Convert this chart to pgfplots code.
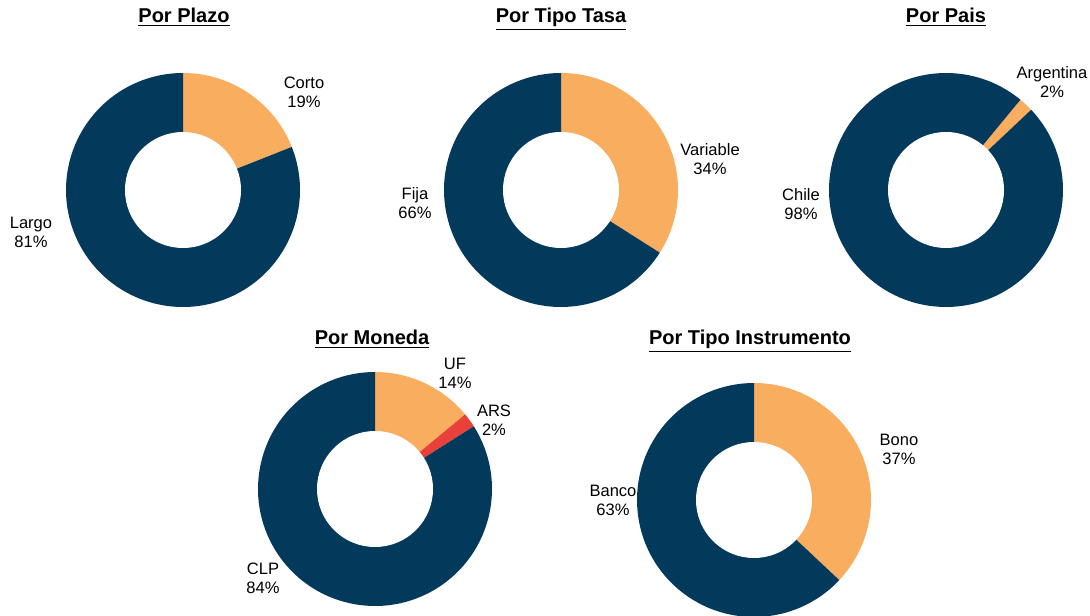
\documentclass[border=0pt]{standalone}
\usepackage{pgfplots}
\pgfplotsset{compat=1.18}
\usepackage{fontspec}
\setmainfont{Liberation Sans}
\definecolor{navy}{RGB}{3,58,92}
\definecolor{orng}{RGB}{249,173,94}
\definecolor{redd}{RGB}{233,64,58}
\newcommand\Ro{87.75pt}
\newcommand\Ri{43.5pt}
\newcommand\donut[2]{%
  \xdef\curang{#1}%
  \foreach \v/\col in {#2} {%
    \pgfmathsetmacro\nextang{\curang-3.6*\v}%
    \fill[\col] (axis cs:0,0) -- ++(\curang:\Ro) arc[start angle=\curang, end angle=\nextang, radius=\Ro] -- cycle;
    \xdef\curang{\nextang}%
  }%
  \fill[white] (axis cs:0,0) circle[radius=\Ri];
}
\pgfplotsset{donutax/.style={scale only axis, width=175.5pt, height=175.5pt,
  xmin=-1, xmax=1, ymin=-1, ymax=1, hide axis, clip=false, anchor=center}}
\newcommand\lab[4]{%
  \node[anchor=base, inner sep=0pt, font=\fontsize{12.4}{14}\selectfont] at (#1,#2) {#3};
  \node[anchor=base, inner sep=0pt, font=\fontsize{12.4}{14}\selectfont] at (#1,{#2+19}) {#4};}
\newcommand\ttl[3]{%
  \node[anchor=base, inner sep=0pt, font=\fontsize{15}{18}\selectfont\bfseries] at (#1,#2) {\underline{#3}};}
\begin{document}
\begin{tikzpicture}[x=0.75pt, y=-0.75pt]
\useasboundingbox (0,0) rectangle (1090,616);
% Por Plazo
\begin{axis}[donutax, at={({183*0.75pt},{-190*0.75pt})}]
\addplot[draw=none] coordinates {(0,0)};
\pgfplotsextra{\donut{90}{19/orng, 81/navy}}
\end{axis}
% Por Tipo Tasa
\begin{axis}[donutax, at={({561*0.75pt},{-190*0.75pt})}]
\addplot[draw=none] coordinates {(0,0)};
\pgfplotsextra{\donut{90}{34/orng, 66/navy}}
\end{axis}
% Por Pais
\begin{axis}[donutax, at={({946*0.75pt},{-190*0.75pt})}]
\addplot[draw=none] coordinates {(0,0)};
\pgfplotsextra{\donut{50.5}{2/orng, 98/navy}}
\end{axis}
% Por Moneda
\begin{axis}[donutax, at={({375*0.75pt},{-489*0.75pt})}]
\addplot[draw=none] coordinates {(0,0)};
\pgfplotsextra{\donut{90}{14/orng, 2/redd, 84/navy}}
\end{axis}
% Por Tipo Instrumento
\begin{axis}[donutax, at={({754*0.75pt},{-500*0.75pt})}]
\addplot[draw=none] coordinates {(0,0)};
\pgfplotsextra{\donut{90}{37/orng, 63/navy}}
\end{axis}
\ttl{184}{23}{Por Plazo}
\ttl{561}{23}{Por Tipo Tasa}
\ttl{946}{23}{Por Pais}
\ttl{372}{345}{Por Moneda}
\ttl{750}{345}{Por Tipo Instrumento}
\lab{304}{89}{Corto}{19\%}
\lab{31}{229}{Largo}{81\%}
\lab{710}{156}{Variable}{34\%}
\lab{415}{200}{Fija}{66\%}
\lab{1052}{79}{Argentina}{2\%}
\lab{801}{201}{Chile}{98\%}
\lab{455}{370}{UF}{14\%}
\lab{494}{417}{ARS}{2\%}
\lab{263}{575}{CLP}{84\%}
\lab{899}{446}{Bono}{37\%}
\lab{613}{497}{Banco}{63\%}
\end{tikzpicture}
\end{document}
